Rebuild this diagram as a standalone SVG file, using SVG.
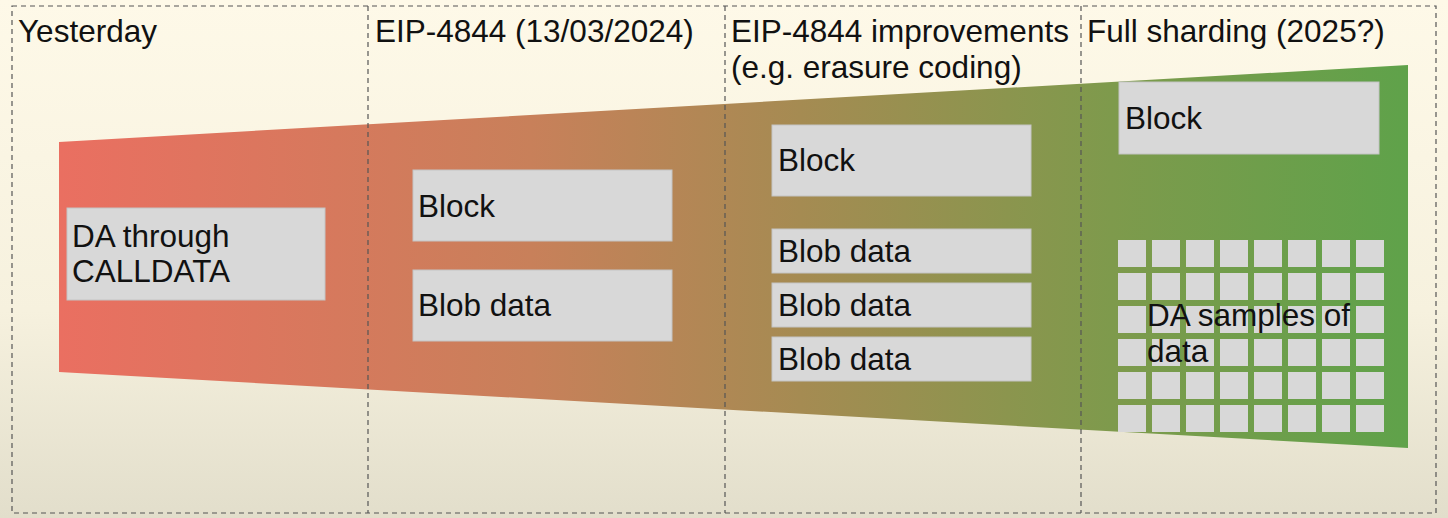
<svg xmlns="http://www.w3.org/2000/svg" width="1448" height="518" viewBox="0 0 1448 518">
<style>
.t{font-family:"Liberation Sans",Arial,sans-serif;font-size:31.5px;fill:#111}
.box{fill:#D8D8D8;stroke:#C4C4C4;stroke-width:1}
.cell{fill:#D8D8D8}
.dash{fill:none;stroke:#555;stroke-width:1.2;stroke-dasharray:5 4}
</style>
<defs>
<linearGradient id="bg" x1="0" y1="0" x2="0" y2="1">
<stop offset="0" stop-color="#FEF9E8"/>
<stop offset="0.6" stop-color="#F6F1DE"/>
<stop offset="1" stop-color="#E2DECB"/>
</linearGradient>
<linearGradient id="band" gradientUnits="userSpaceOnUse" x1="59" y1="0" x2="1408" y2="0">
<stop offset="0" stop-color="#EA6F61"/>
<stop offset="0.35" stop-color="#C8805A"/>
<stop offset="0.55" stop-color="#A58B52"/>
<stop offset="0.78" stop-color="#7E9A4C"/>
<stop offset="1" stop-color="#5FA24A"/>
</linearGradient>
</defs>
<rect x="0" y="0" width="1448" height="518" fill="url(#bg)"/>
<g id="band-shape">
<polygon points="59,142 1408,65 1408,448 59,372" fill="url(#band)"/>
</g>
<g id="frame">
<rect class="dash" x="12" y="6" width="1424" height="507"/>
<line class="dash" x1="368" y1="6" x2="368" y2="513"/>
<line class="dash" x1="725" y1="6" x2="725" y2="513"/>
<line class="dash" x1="1081" y1="6" x2="1081" y2="513"/>
</g>
<g id="headers">
<text class="t" x="18" y="42">Yesterday</text>
<text class="t" x="375" y="42">EIP-4844 (13/03/2024)</text>
<text class="t" x="731" y="42">EIP-4844 improvements</text>
<text class="t" x="731" y="78">(e.g. erasure coding)</text>
<text class="t" x="1087" y="42">Full sharding (2025?)</text>
</g>
<g id="calldata">
<rect class="box" x="67" y="208" width="258" height="92"/>
<text class="t" x="72" y="247">DA through</text>
<text class="t" x="72" y="282">CALLDATA</text>
</g>
<g id="block-4844">
<rect class="box" x="413" y="170" width="259" height="71"/>
<text class="t" x="418" y="217">Block</text>
</g>
<g id="blob-4844">
<rect class="box" x="413" y="270" width="259" height="71"/>
<text class="t" x="418" y="316">Blob data</text>
</g>
<g id="block-improv">
<rect class="box" x="772" y="125" width="259" height="71"/>
<text class="t" x="778" y="171">Block</text>
</g>
<g id="blob-improv-1">
<rect class="box" x="772" y="229" width="259" height="44"/>
<text class="t" x="778" y="262">Blob data</text>
</g>
<g id="blob-improv-2">
<rect class="box" x="772" y="283" width="259" height="44"/>
<text class="t" x="778" y="316">Blob data</text>
</g>
<g id="blob-improv-3">
<rect class="box" x="772" y="337" width="259" height="44"/>
<text class="t" x="778" y="370">Blob data</text>
</g>
<g id="block-sharding">
<rect class="box" x="1119" y="82" width="260" height="72"/>
<text class="t" x="1125" y="129">Block</text>
</g>
<g id="samples">
<g class="cell">
<rect x="1118" y="240" width="28" height="27"/><rect x="1152" y="240" width="28" height="27"/><rect x="1186" y="240" width="28" height="27"/><rect x="1220" y="240" width="28" height="27"/><rect x="1254" y="240" width="28" height="27"/><rect x="1288" y="240" width="28" height="27"/><rect x="1322" y="240" width="28" height="27"/><rect x="1356" y="240" width="28" height="27"/>
<rect x="1118" y="273" width="28" height="27"/><rect x="1152" y="273" width="28" height="27"/><rect x="1186" y="273" width="28" height="27"/><rect x="1220" y="273" width="28" height="27"/><rect x="1254" y="273" width="28" height="27"/><rect x="1288" y="273" width="28" height="27"/><rect x="1322" y="273" width="28" height="27"/><rect x="1356" y="273" width="28" height="27"/>
<rect x="1118" y="306" width="28" height="27"/><rect x="1152" y="306" width="28" height="27"/><rect x="1186" y="306" width="28" height="27"/><rect x="1220" y="306" width="28" height="27"/><rect x="1254" y="306" width="28" height="27"/><rect x="1288" y="306" width="28" height="27"/><rect x="1322" y="306" width="28" height="27"/><rect x="1356" y="306" width="28" height="27"/>
<rect x="1118" y="339" width="28" height="27"/><rect x="1152" y="339" width="28" height="27"/><rect x="1186" y="339" width="28" height="27"/><rect x="1220" y="339" width="28" height="27"/><rect x="1254" y="339" width="28" height="27"/><rect x="1288" y="339" width="28" height="27"/><rect x="1322" y="339" width="28" height="27"/><rect x="1356" y="339" width="28" height="27"/>
<rect x="1118" y="372" width="28" height="27"/><rect x="1152" y="372" width="28" height="27"/><rect x="1186" y="372" width="28" height="27"/><rect x="1220" y="372" width="28" height="27"/><rect x="1254" y="372" width="28" height="27"/><rect x="1288" y="372" width="28" height="27"/><rect x="1322" y="372" width="28" height="27"/><rect x="1356" y="372" width="28" height="27"/>
<rect x="1118" y="405" width="28" height="27"/><rect x="1152" y="405" width="28" height="27"/><rect x="1186" y="405" width="28" height="27"/><rect x="1220" y="405" width="28" height="27"/><rect x="1254" y="405" width="28" height="27"/><rect x="1288" y="405" width="28" height="27"/><rect x="1322" y="405" width="28" height="27"/><rect x="1356" y="405" width="28" height="27"/>
</g>
<text class="t" x="1147" y="326">DA samples of</text>
<text class="t" x="1147" y="362">data</text>
</g>
</svg>
